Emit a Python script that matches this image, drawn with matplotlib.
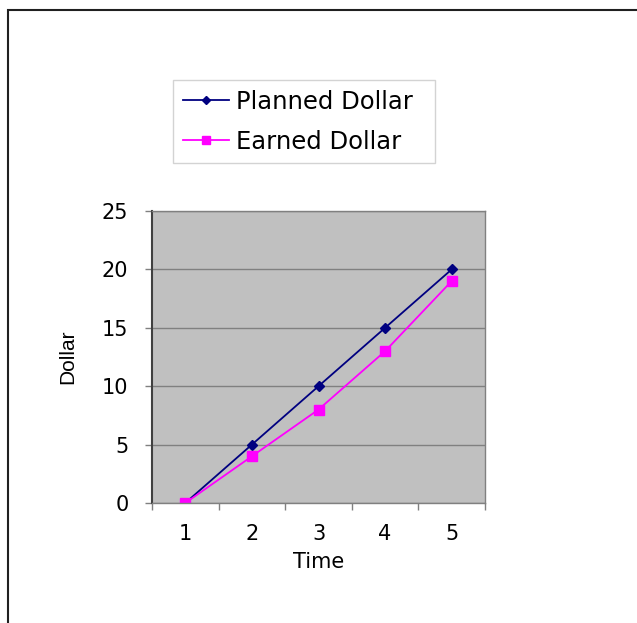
import matplotlib
matplotlib.use("Agg")
import matplotlib.pyplot as plt
from matplotlib.patches import Rectangle

time_points = [1, 2, 3, 4, 5]
planned_dollar = [0, 5, 10, 15, 20]
earned_dollar = [0, 4, 8, 13, 19]
y_ticks = [0, 5, 10, 15, 20, 25]

plt.rcParams['font.family'] = ['DejaVu Sans']

W, H = 637, 623
fig = plt.figure(figsize=(W / 100, H / 100), dpi=100)
fig.patch.set_facecolor('white')

# outer chart frame (only top and left edges fall inside the canvas)
fig.add_artist(Rectangle((7.5 / W, -0.1), 1.2, 1.1 - 10.5 / H,
                         transform=fig.transFigure, fill=False,
                         edgecolor='#202020', linewidth=1.5))

left, right, top, bottom = 152, 485, 211, 503
ax = fig.add_axes([left / W, 1 - bottom / H, (right - left) / W, (bottom - top) / H])
ax.set_facecolor('#C0C0C0')

ax.plot(time_points, planned_dollar, color='#000080', marker='D', markersize=5,
        linewidth=1.3, label='Planned Dollar')
ax.plot(time_points, earned_dollar, color='#FF00FF', marker='s', markersize=6.5,
        linewidth=1.3, label='Earned Dollar')

ax.set_xlim(0.5, 5.5)
ax.set_ylim(0, 25)
ax.set_yticks(y_ticks)
ax.set_xticks(time_points)
ax.set_xticks([0.5, 1.5, 2.5, 3.5, 4.5, 5.5], minor=True)
ax.yaxis.grid(True, color='#808080', linewidth=1)
ax.set_axisbelow(True)

ax.tick_params(axis='x', which='major', length=0, pad=15, labelsize=15)
ax.tick_params(axis='x', which='minor', length=5, color='#808080', width=1)
ax.tick_params(axis='y', length=5, color='#808080', width=1, pad=12, labelsize=15)

for side in ['top', 'right', 'bottom']:
    ax.spines[side].set_color('#808080')
    ax.spines[side].set_linewidth(1)
ax.spines['left'].set_color('#404040')
ax.spines['left'].set_linewidth(1.5)

ax.set_xlabel('Time', fontsize=15, labelpad=6)
ax.set_ylabel('Dollar', fontsize=15, family='Liberation Sans')
ax.yaxis.set_label_coords(-0.225, 0.5)

leg = fig.legend(loc='upper left',
                 bbox_to_anchor=(173 / W, 1 - 162 / H, 262 / W, 82 / H),
                 mode='expand', fontsize=17.5, frameon=True, fancybox=False,
                 handlelength=1.9, borderpad=0.4, labelspacing=0.65,
                 handletextpad=0.3, borderaxespad=0, markerscale=0.9)
leg.get_frame().set_edgecolor('#C8C8C8')
leg.get_frame().set_linewidth(1)

fig.savefig('out.png', dpi=100)
